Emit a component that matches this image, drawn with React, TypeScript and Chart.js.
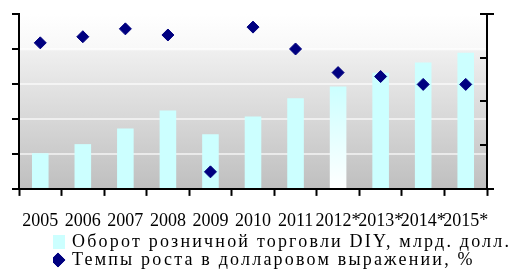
import React, { useEffect, useRef } from "react";
import { Chart, registerables } from "chart.js";

Chart.register(...registerables);

const years = ["2005", "2006", "2007", "2008", "2009", "2010", "2011", "2012*", "2013*", "2014*", "2015*"];
const turnover = [10.2, 12.8, 17.3, 22.4, 15.6, 20.7, 25.9, 29.3, 33.2, 36.1, 38.9];
const growth = [33.4, 34.8, 36.6, 35.2, 3.9, 37.0, 32.0, 26.6, 25.7, 23.9, 23.9];
const legendLabels = [
  "Оборот розничной торговли DIY, млрд. долл.",
  "Темпы роста в долларовом выражении, %",
];

const BAR = "#ccffff";
const NAVY = "#000080";
const FONT = "'Liberation Serif', 'Times New Roman', serif";

const bgPlugin = {
  id: "bgGradient",
  beforeDraw(chart: any) {
    const { ctx, chartArea } = chart;
    if (!chartArea) return;
    const g = ctx.createLinearGradient(0, chartArea.top, 0, chartArea.bottom);
    g.addColorStop(0, "#ffffff");
    g.addColorStop(0.2, "#f8f8f8");
    g.addColorStop(0.215, "#efefef");
    g.addColorStop(1, "#bfbfbf");
    ctx.save();
    ctx.fillStyle = g;
    ctx.fillRect(chartArea.left, chartArea.top, chartArea.right - chartArea.left, chartArea.bottom - chartArea.top);
    ctx.restore();
  },
};

const legendShift = {
  id: "legendShift",
  afterLayout(chart: any) {
    const l = chart.legend;
    if (!l) return;
    l.left += 41;
    l.right += 41;
    if (!l.__wrapped) {
      const orig = l.draw.bind(l);
      l.draw = function () {
        const ctx = chart.ctx;
        ctx.save();
        try {
          (ctx as any).letterSpacing = "2.2px";
        } catch (e) {}
        orig();
        ctx.restore();
      };
      l.__wrapped = true;
    }
  },
};

const rightTicks = {
  id: "rightTicks",
  afterDraw(chart: any) {
    const s = chart.scales.y1;
    if (!s) return;
    const { ctx } = chart;
    const x = Math.round(chart.chartArea.right);
    ctx.save();
    ctx.strokeStyle = "#000";
    ctx.lineWidth = 2;
    s.ticks.forEach((t: any, i: number) => {
      const y = Math.round(s.getPixelForValue(t.value));
      const ext = i === 0 || i === s.ticks.length - 1 ? 7 : 0;
      ctx.beginPath();
      ctx.moveTo(x - 7, y);
      ctx.lineTo(x + ext, y);
      ctx.stroke();
    });
    ctx.restore();
  },
};

export default function App() {
  const ref = useRef<HTMLCanvasElement>(null);
  useEffect(() => {
    if (!ref.current) return;
    Chart.defaults.font.family = FONT;
    Chart.defaults.color = "#000";
    const chart = new Chart(ref.current, {
      type: "bar",
      data: {
        labels: years,
        datasets: [
          {
            type: "bar",
            label: legendLabels[0],
            data: turnover,
            yAxisID: "y",
            order: 2,
            borderWidth: 0,
            categoryPercentage: 1,
            barPercentage: 0.39,
            backgroundColor: (c: any) => {
              if (c.dataIndex !== 7) return BAR;
              const chart = c.chart;
              const s = chart.scales && chart.scales.y;
              if (!chart.chartArea || !s) return BAR;
              const top = s.getPixelForValue(turnover[7]);
              const bottom = s.getPixelForValue(0);
              const g = chart.ctx.createLinearGradient(0, top, 0, bottom);
              g.addColorStop(0, BAR);
              g.addColorStop(1, "#ffffff");
              return g;
            },
          } as any,
          {
            type: "line",
            label: legendLabels[1],
            data: growth,
            yAxisID: "y1",
            order: 1,
            showLine: false,
            pointStyle: "rectRot",
            pointRadius: 6,
            pointHoverRadius: 6,
            pointBorderWidth: 1,
            backgroundColor: NAVY,
            borderColor: NAVY,
          } as any,
        ],
      },
      options: {
        responsive: false,
        animation: false,
        layout: { padding: { left: 12, right: 25, top: 14, bottom: -5 } },
        scales: {
          x: {
            afterFit: (s: any) => {
              s.height -= 14.5;
            },
            grid: {
              offset: true,
              drawOnChartArea: false,
              drawTicks: true,
              tickLength: 7,
              tickColor: "#000",
              tickWidth: 2,
            },
            border: { display: true, color: "#000", width: 2 },
            ticks: {
              autoSkip: false,
              maxRotation: 0,
              minRotation: 0,
              padding: 15,
              color: "#000",
              font: { family: FONT, size: 18 },
            },
          },
          y: {
            position: "left",
            min: 0,
            max: 50,
            ticks: { display: false, stepSize: 10 },
            grid: {
              color: (c: any) => (c.index === 0 || c.index === 5 ? "rgba(0,0,0,0)" : "rgba(255,255,255,0.6)"),
              lineWidth: 2,
              tickLength: 7,
              tickColor: "#000",
              tickWidth: 2,
            },
            border: { display: true, color: "#000", width: 2 },
          },
          y1: {
            position: "right",
            min: 0,
            max: 40,
            ticks: { display: false, stepSize: 10 },
            grid: { display: false, drawTicks: false },
            border: { display: true, color: "#000", width: 2 },
          },
        },
        plugins: {
          tooltip: { enabled: false },
          legend: {
            position: "bottom",
            align: "start",
            labels: {
              usePointStyle: true,
              boxWidth: 10,
              boxHeight: 10,
              padding: 0,
              color: "#000",
              font: { family: FONT, size: 18 },
              generateLabels: () => [
                {
                  text: legendLabels[0],
                  fillStyle: BAR,
                  strokeStyle: BAR,
                  lineWidth: 4,
                  pointStyle: "rect",
                  datasetIndex: 0,
                  hidden: false,
                },
                {
                  text: legendLabels[1],
                  fillStyle: NAVY,
                  strokeStyle: NAVY,
                  lineWidth: 1,
                  pointStyle: "rectRot",
                  datasetIndex: 1,
                  hidden: false,
                },
              ] as any,
            },
          },
        },
      },
      plugins: [bgPlugin, legendShift, rightTicks],
    });
    return () => chart.destroy();
  }, []);
  return (
    <div style={{ position: "absolute", left: 0, top: 0, width: 512, height: 274 }}>
      <canvas ref={ref} width={512} height={274} />
    </div>
  );
}
